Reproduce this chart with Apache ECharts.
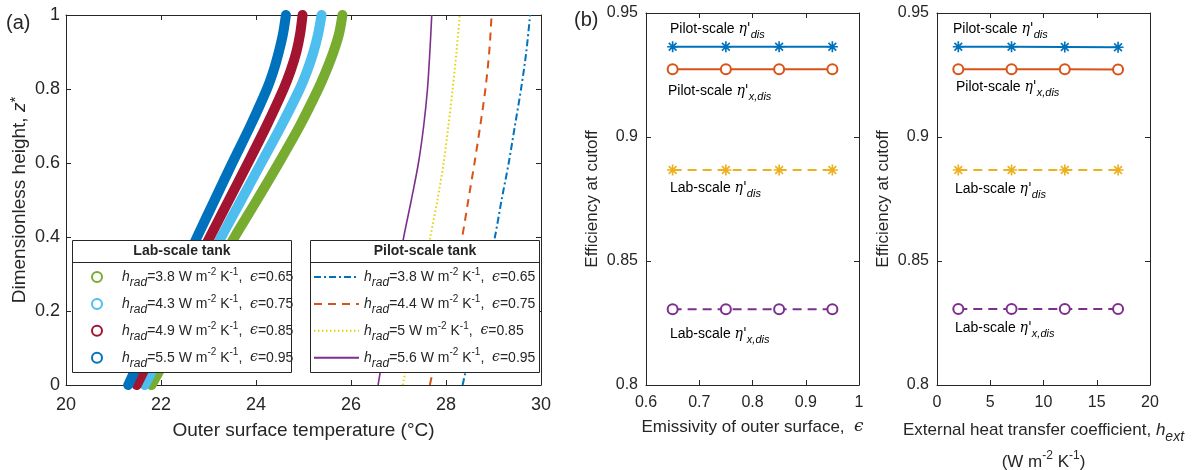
<!DOCTYPE html>
<html><head><meta charset="utf-8">
<script src="https://cdn.jsdelivr.net/npm/echarts@6/dist/echarts.min.js"></script>
<style>html,body{margin:0;padding:0;background:#fff}#c{width:1197px;height:470px}</style>
</head><body><div id="c"></div>
<script>
// ---------- Panel (a) data ----------
const zLab = [0, 0.1, 0.2, 0.3, 0.4, 0.5, 0.6, 0.7, 0.8, 0.85, 0.9, 0.95, 1];
const labT065 = [21.80, 22.23, 22.66, 23.10, 23.55, 24.02, 24.48, 24.92, 25.31, 25.48, 25.63, 25.75, 25.82];
const labT075 = [21.66, 22.06, 22.46, 22.86, 23.27, 23.69, 24.11, 24.53, 24.92, 25.08, 25.21, 25.31, 25.38];
const labT085 = [21.49, 21.87, 22.25, 22.64, 23.03, 23.43, 23.83, 24.22, 24.58, 24.73, 24.85, 24.93, 24.98];
const labT095 = [21.31, 21.67, 22.03, 22.40, 22.76, 23.13, 23.50, 23.88, 24.23, 24.37, 24.48, 24.57, 24.63];

const zPilot = [0, 0.1, 0.2, 0.3, 0.4, 0.5, 0.6, 0.7, 0.8, 0.9, 1];
const pilotT065 = [28.35, 28.52, 28.69, 28.86, 29.03, 29.17, 29.32, 29.45, 29.58, 29.69, 29.77];
const pilotT075 = [27.66, 27.83, 28.00, 28.17, 28.34, 28.47, 28.60, 28.72, 28.83, 28.91, 28.96];
const pilotT085 = [27.09, 27.24, 27.38, 27.52, 27.67, 27.82, 27.95, 28.05, 28.14, 28.22, 28.29];
const pilotT095 = [26.57, 26.70, 26.84, 26.97, 27.11, 27.27, 27.42, 27.53, 27.61, 27.66, 27.70];

const epsValues = [0.65, 0.75, 0.85, 0.95];
const labHrad = [3.8, 4.3, 4.9, 5.5];
const pilotHrad = [3.8, 4.4, 5, 5.6];

// ---------- Panel (b) data ----------
const emissivity = [0.65, 0.75, 0.85, 0.95];
const hExt = [2, 7, 12, 17];
const pilotEtaDisEps  = [0.9364, 0.9364, 0.9364, 0.9364];
const pilotEtaXDisEps = [0.9273, 0.9273, 0.9273, 0.9273];
const labEtaDisEps    = [0.8867, 0.8867, 0.8867, 0.8867];
const labEtaXDisEps   = [0.8305, 0.8305, 0.8305, 0.8305];
const pilotEtaDisH  = [0.9364, 0.9364, 0.9363, 0.9362];
const pilotEtaXDisH = [0.9273, 0.9273, 0.9273, 0.9272];
const labEtaDisH    = [0.8867, 0.8867, 0.8867, 0.8867];
const labEtaXDisH   = [0.8306, 0.8306, 0.8306, 0.8306];

// ---------- styling ----------
const FONT = "'Liberation Sans', Arial, Helvetica, sans-serif";
const SERIF = "'DejaVu Serif', serif";
const TXT = '#262626';
const AX = '#262626';
const labColors = ['#77AC30', '#4DBEEE', '#A2142F', '#0072BD'];
const pilotColors = ['#0072BD', '#D95319', '#E3D400', '#7E2F8E'];
const pilotDash = [[7, 3, 2, 3], [8, 6], [1.5, 2.5], 'solid'];
const C_BLUE = '#0072BD', C_ORANGE = '#D95319', C_YELLOW = '#EDB120', C_PURPLE = '#7E2F8E';
const ASTER = 'path://M8.5,0h3v20h-3z M0,8.5h20v3h-20z M1.9,4L4,1.9L18.1,16L16,18.1z M16,1.9L18.1,4L4,18.1L1.9,16z';

const labT = [labT065, labT075, labT085, labT095];
const pilotT = [pilotT065, pilotT075, pilotT085, pilotT095];
const labNames = epsValues.map(e => 'Lab eps ' + e);
const pilotNames = epsValues.map(e => 'Pilot eps ' + e);

function legendRich(h, e) {
  return '{i|h}{sub|rad}{n|=' + h + ' W m}{sup|-2}{n| K}{sup|-1}{n|,  }{e|\u03F5}{n|=' + e + '}';
}
const legRich = {
  i: {fontFamily: FONT, fontStyle: 'italic', fontSize: 14, lineHeight: 16, color: TXT},
  sub: {fontFamily: FONT, fontStyle: 'italic', fontSize: 12, lineHeight: 12, padding: [12, 0, 0, 0], color: TXT},
  n: {fontFamily: FONT, fontSize: 14, lineHeight: 16, color: TXT},
  sup: {fontFamily: FONT, fontSize: 10, lineHeight: 12, padding: [0, 0, 10, 0], color: TXT},
  e: {fontFamily: SERIF, fontStyle: 'italic', fontSize: 14, lineHeight: 16, color: TXT}
};
const annRich = {
  n: {fontFamily: FONT, fontSize: 14, lineHeight: 16, color: TXT},
  g: {fontFamily: SERIF, fontStyle: 'italic', fontSize: 14, lineHeight: 16, color: TXT},
  s: {fontFamily: FONT, fontStyle: 'italic', fontSize: 11, lineHeight: 12, padding: [12, 0, 0, 0], color: TXT}
};

function xAx(grid, min, max, interval, top, fs, extra) {
  return Object.assign({
    type: 'value', gridIndex: grid, min: min, max: max, interval: interval,
    position: top ? 'top' : 'bottom',
    axisLine: {show: true, onZero: false, lineStyle: {color: AX, width: 1}},
    axisTick: {show: true, inside: true, length: 5, lineStyle: {color: AX}},
    axisLabel: {show: !top, fontSize: fs, fontFamily: FONT, color: TXT, margin: fs > 17 ? 11 : 10},
    splitLine: {show: false}
  }, extra || {});
}
function yAx(grid, min, max, interval, right, fs, extra) {
  return Object.assign({
    type: 'value', gridIndex: grid, min: min, max: max, interval: interval,
    position: right ? 'right' : 'left',
    axisLine: {show: true, onZero: false, lineStyle: {color: AX, width: 1}},
    axisTick: {show: true, inside: true, length: 5, lineStyle: {color: AX}},
    axisLabel: {show: !right, fontSize: fs, fontFamily: FONT, color: TXT, margin: fs > 17 ? 6 : 8},
    splitLine: {show: false}
  }, extra || {});
}

const series = [];
labT.forEach((arr, i) => {
  series.push({
    type: 'line', name: labNames[i], xAxisIndex: 0, yAxisIndex: 0,
    data: zLab.map((z, k) => [arr[k], z]),
    symbol: 'none', smooth: 0.3,
    lineStyle: {width: 10, color: labColors[i], cap: 'round', join: 'round'},
    itemStyle: {color: labColors[i]}, z: 2
  });
});
pilotT.forEach((arr, i) => {
  series.push({
    type: 'line', name: pilotNames[i], xAxisIndex: 0, yAxisIndex: 0,
    data: zPilot.map((z, k) => [arr[k], z]),
    symbol: 'none', smooth: 0.3,
    lineStyle: {width: i === 3 ? 1.6 : 2, color: pilotColors[i], type: pilotDash[i]},
    itemStyle: {color: pilotColors[i]}, z: 3
  });
});
function bSeries(name, xs, ys, xi, yi, color, sym, dashed) {
  const hollow = sym === 'circle';
  return {
    type: 'line', name: name, xAxisIndex: xi, yAxisIndex: yi,
    data: xs.map((x, k) => [x, ys[k]]),
    symbol: sym, symbolSize: hollow ? 10 : 11, showSymbol: true,
    lineStyle: {width: 2, color: color, type: dashed ? [9, 6] : 'solid'},
    itemStyle: hollow ? {color: '#fff', borderColor: color, borderWidth: 2} : {color: color},
    z: 3
  };
}
series.push(
  bSeries('p1', emissivity, pilotEtaDisEps, 2, 2, C_BLUE, ASTER, false),
  bSeries('p2', emissivity, pilotEtaXDisEps, 2, 2, C_ORANGE, 'circle', false),
  bSeries('p3', emissivity, labEtaDisEps, 2, 2, C_YELLOW, ASTER, true),
  bSeries('p4', emissivity, labEtaXDisEps, 2, 2, C_PURPLE, 'circle', true),
  bSeries('h1', hExt, pilotEtaDisH, 4, 4, C_BLUE, ASTER, false),
  bSeries('h2', hExt, pilotEtaXDisH, 4, 4, C_ORANGE, 'circle', false),
  bSeries('h3', hExt, labEtaDisH, 4, 4, C_YELLOW, ASTER, true),
  bSeries('h4', hExt, labEtaXDisH, 4, 4, C_PURPLE, 'circle', true)
);

function ann(x, y, main, sub) {
  return {type: 'text', x: x, y: y, z: 12,
    style: {text: '{n|' + main + ' }{g|\u03B7\'}{s|' + sub + '}', rich: annRich, verticalAlign: 'middle', align: 'left'}};
}

const option = {
  animation: false,
  backgroundColor: '#fff',
  grid: [
    {left: 66, top: 15, width: 475, height: 370, outerBoundsMode: 'none', containLabel: false},
    {left: 646, top: 13, width: 213, height: 372, outerBoundsMode: 'none', containLabel: false},
    {left: 937, top: 13, width: 213, height: 372, outerBoundsMode: 'none', containLabel: false}
  ],
  xAxis: [
    xAx(0, 20, 30, 2, false, 18, {
      name: 'Outer surface temperature (\u00B0C)', nameLocation: 'middle', nameGap: 36,
      nameTextStyle: {fontSize: 19, fontFamily: FONT, color: TXT, lineHeight: 20}}),
    xAx(0, 20, 30, 2, true, 18),
    xAx(1, 0.6, 1, 0.1, false, 16, {
      name: '{n|Emissivity of outer surface,  }{e|\u03F5}', nameLocation: 'middle', nameGap: 33,
      nameTextStyle: {rich: {
        n: {fontSize: 17, fontFamily: FONT, color: TXT, lineHeight: 18},
        e: {fontSize: 17, fontFamily: SERIF, fontStyle: 'italic', color: TXT, lineHeight: 18}}}}),
    xAx(1, 0.6, 1, 0.1, true, 16),
    xAx(2, 0, 20, 5, false, 16, {
      name: '{n|External heat transfer coefficient, }{i|h}{s|ext}\n{n|(W m}{p|-2}{n| K}{p|-1}{n|)}',
      nameLocation: 'middle', nameGap: 23,
      nameTextStyle: {rich: {
        n: {fontSize: 17, fontFamily: FONT, color: TXT, lineHeight: 32},
        i: {fontSize: 17, fontFamily: FONT, fontStyle: 'italic', color: TXT, lineHeight: 32},
        s: {fontSize: 14, fontFamily: FONT, fontStyle: 'italic', color: TXT, lineHeight: 14, padding: [14, 0, 0, 0]},
        p: {fontSize: 12, fontFamily: FONT, color: TXT, lineHeight: 12, padding: [0, 0, 12, 0]}}}}),
    xAx(2, 0, 20, 5, true, 16)
  ],
  yAxis: [
    yAx(0, 0, 1, 0.2, false, 18, {
      name: '{n|Dimensionless height, }{i|z}{p|*}', nameLocation: 'middle', nameGap: 34,
      nameTextStyle: {rich: {
        n: {fontSize: 19, fontFamily: FONT, color: TXT, lineHeight: 20},
        i: {fontSize: 19, fontFamily: FONT, fontStyle: 'italic', color: TXT, lineHeight: 20},
        p: {fontSize: 15, fontFamily: FONT, color: TXT, lineHeight: 14, padding: [0, 0, 8, 0]}}}}),
    yAx(0, 0, 1, 0.2, true, 18),
    yAx(1, 0.8, 0.95, 0.05, false, 16, {
      name: 'Efficiency at cutoff', nameLocation: 'middle', nameGap: 45,
      nameTextStyle: {fontSize: 17, fontFamily: FONT, color: TXT, lineHeight: 18}}),
    yAx(1, 0.8, 0.95, 0.05, true, 16),
    yAx(2, 0.8, 0.95, 0.05, false, 16, {
      name: 'Efficiency at cutoff', nameLocation: 'middle', nameGap: 45,
      nameTextStyle: {fontSize: 17, fontFamily: FONT, color: TXT, lineHeight: 18}}),
    yAx(2, 0.8, 0.95, 0.05, true, 16)
  ],
  legend: [
    {
      data: labNames.map((n, i) => ({name: n, icon: 'circle',
        itemStyle: {color: '#fff', borderColor: labColors[i], borderWidth: 2}})),
      left: 91, top: 265, orient: 'vertical', itemWidth: 40, itemHeight: 10, itemGap: 2.9,
      padding: 0, selectedMode: false, z: 20,
      formatter: name => legendRich(labHrad[labNames.indexOf(name)], epsValues[labNames.indexOf(name)]),
      textStyle: {rich: legRich}
    },
    {
      data: pilotNames,
      left: 313, top: 265, orient: 'vertical', itemWidth: 45, itemHeight: 10, itemGap: 2.9,
      padding: 0, selectedMode: false, z: 20,
      lineStyle: {width: 2},
      itemStyle: {color: 'rgba(0,0,0,0)', borderWidth: 0, borderColor: 'rgba(0,0,0,0)'},
      formatter: name => legendRich(pilotHrad[pilotNames.indexOf(name)], epsValues[pilotNames.indexOf(name)]),
      textStyle: {rich: legRich}
    }
  ],
  graphic: [
    {type: 'rect', z: 10, shape: {x: 72.5, y: 240.5, width: 219, height: 132},
      style: {fill: '#fff', stroke: AX, lineWidth: 1}},
    {type: 'line', z: 11, shape: {x1: 72.5, y1: 262.5, x2: 291.5, y2: 262.5}, style: {stroke: AX, lineWidth: 1}},
    {type: 'text', z: 11, x: 182, y: 251.5,
      style: {text: 'Lab-scale tank', fontFamily: FONT, fontWeight: 'bold', fontSize: 14, fill: TXT, align: 'center', verticalAlign: 'middle'}},
    {type: 'rect', z: 10, shape: {x: 310.5, y: 240.5, width: 229, height: 132},
      style: {fill: '#fff', stroke: AX, lineWidth: 1}},
    {type: 'line', z: 11, shape: {x1: 310.5, y1: 262.5, x2: 539.5, y2: 262.5}, style: {stroke: AX, lineWidth: 1}},
    {type: 'text', z: 11, x: 425, y: 251.5,
      style: {text: 'Pilot-scale tank', fontFamily: FONT, fontWeight: 'bold', fontSize: 14, fill: TXT, align: 'center', verticalAlign: 'middle'}},
    {type: 'text', z: 11, x: 6, y: 23,
      style: {text: '(a)', fontFamily: FONT, fontSize: 20, fill: TXT, align: 'left', verticalAlign: 'middle'}},
    {type: 'text', z: 11, x: 574, y: 20,
      style: {text: '(b)', fontFamily: FONT, fontSize: 20, fill: TXT, align: 'left', verticalAlign: 'middle'}},
    ann(670, 29, 'Pilot-scale', 'dis'),
    ann(668, 91, 'Pilot-scale', 'x,dis'),
    ann(670, 188, 'Lab-scale', 'dis'),
    ann(670, 334, 'Lab-scale', 'x,dis'),
    ann(953, 29, 'Pilot-scale', 'dis'),
    ann(956, 87, 'Pilot-scale', 'x,dis'),
    ann(955, 189, 'Lab-scale', 'dis'),
    ann(955, 328, 'Lab-scale', 'x,dis')
  ],
  series: series
};
const chart = echarts.init(document.getElementById('c'), null, {renderer: 'canvas'});
chart.setOption(option);
</script>
</body></html>
